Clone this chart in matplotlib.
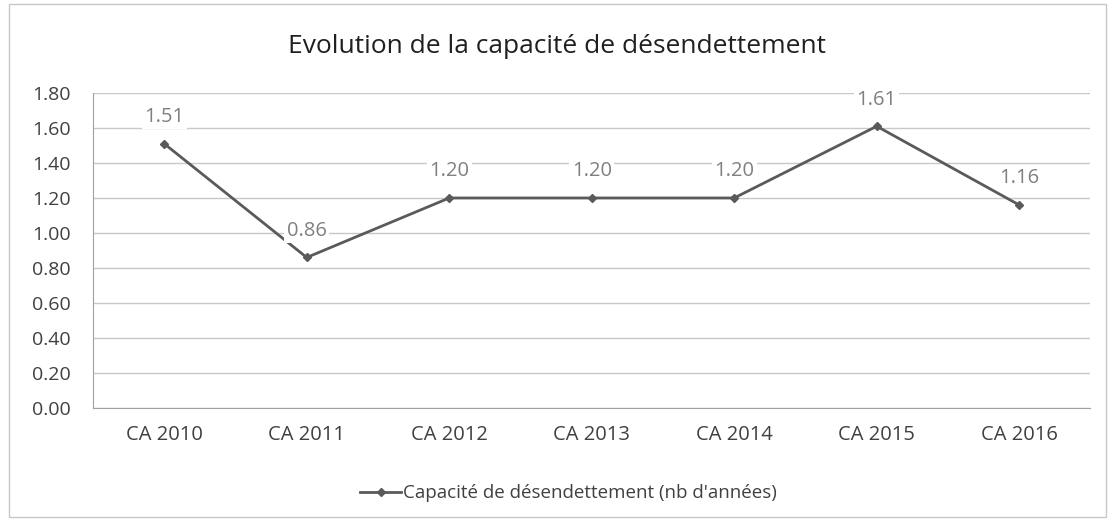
import matplotlib.pyplot as plt
from matplotlib.patches import Rectangle

# données du graphique
categories = ["CA 2010", "CA 2011", "CA 2012", "CA 2013", "CA 2014", "CA 2015", "CA 2016"]
valeurs = [1.51, 0.86, 1.20, 1.20, 1.20, 1.61, 1.16]
etiquettes = ["1.51", "0.86", "1.20", "1.20", "1.20", "1.61", "1.16"]
yticks = [0.0, 0.2, 0.4, 0.6, 0.8, 1.0, 1.2, 1.4, 1.6, 1.8]

plt.rcParams['font.family'] = ['Open Sans', 'DejaVu Sans']

fig = plt.figure(figsize=(11.15, 5.21), dpi=100, facecolor='white')
ax = fig.add_axes([0.0834, 0.217, 0.8946, 0.6045])

# cadre extérieur du graphique
fig.patches.append(Rectangle((0.008, 0.008), 0.984, 0.984, transform=fig.transFigure,
                             fill=False, edgecolor='#c8c8c8', linewidth=1.0))

x = list(range(len(categories)))
ax.plot(x, valeurs, color='#5a5a5a', linewidth=2, marker='D', markersize=4,
        markerfacecolor='#5a5a5a', label="Capacité de désendettement (nb d'années)")

for xi, v, t in zip(x, valeurs, etiquettes):
    ax.annotate(t, (xi, v), xytext=(0, 12), textcoords='offset points', ha='center',
                va='bottom', fontsize=14.5, color='#808080',
                bbox=dict(boxstyle='square,pad=0.12', fc='white', ec='none'))

ax.set_xlim(-0.5, len(categories) - 0.5)
ax.set_ylim(0, 1.8)
ax.set_xticks(x)
ax.set_xticklabels(categories, fontsize=14.5, color='#404040')
ax.set_yticks(yticks)
ax.set_yticklabels(["%.2f" % v for v in yticks], fontsize=14, color='#404040')
ax.tick_params(axis='y', length=0, pad=16)
ax.tick_params(axis='x', length=0, pad=12)
ax.grid(axis='y', color='#c8c8c8', linewidth=1)
ax.set_axisbelow(True)
for s in ['top', 'right']:
    ax.spines[s].set_visible(False)
ax.spines['left'].set_color('#a0a0a0')
ax.spines['bottom'].set_color('#a0a0a0')

fig.text(0.5, 0.91, "Evolution de la capacité de désendettement", ha='center', va='center',
         fontsize=19, color='#202020')

fig.legend(loc='center', bbox_to_anchor=(0.51, 0.053), frameon=False, fontsize=13.5,
           labelcolor='#404040', handlelength=2.2, handletextpad=0.1)

fig.savefig('out.png', dpi=100, facecolor='white')
